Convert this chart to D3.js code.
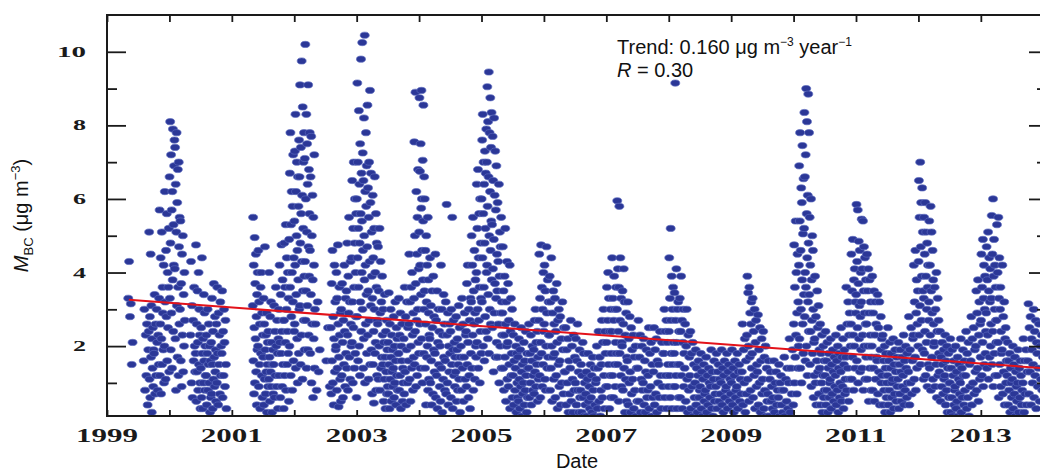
<!DOCTYPE html>
<html>
<head>
<meta charset="utf-8">
<script src="https://cdn.jsdelivr.net/npm/d3@7"></script>
<style>
  body { margin: 0; background: #fff; }
  svg { display: block; }
</style>
</head>
<body>
<svg id="chart" width="1040" height="473"></svg>
<script>
// daily M_BC readings, one string per month (Jan..Dec)
const m1999 = ["", "", "", "",
  "3.3 4.3 2.8 3.15 1.5 2.1", "", "",
  "1.6 3.0 0.8 2.3 1.2 2.6 0.4 1.9",
  "2.4 5.1 1.1 2.8 0.6 4.5 1.7 3.1 0.2 2.2 1.4 2.5 0.9 1.9",
  "1.8 3.4 0.7 2.6 1.2 3.0 2.1 0.8 2.3 1.5",
  "3.3 5.7 1.2 2.6 4.4 0.7 2.2 5.1 1.5 3.6 2.9 1.9 4.2 1.0",
  "2.0 6.2 3.2 1.1 4.6 2.8 5.6 1.6 4.0 2.5 3.6 5.2 1.3"];
const m2000 = [
  "6.6 3.3 8.1 4.8 1.9 7.2 2.9 5.7 1.4 6.2 3.8 7.9 2.4 5.3 4.2 6.9 7.6",
  "4.1 7.4 2.2 6.4 0.8 5.1 7.8 3.1 5.9 1.7 6.8 3.6 1.2 7.0 4.7 2.6 5.5",
  "3.0 5.4 1.6 3.7 0.9 4.5 2.3 5.0 1.3 3.4 2.0 4.0 2.7",
  "",
  "2.3 4.3 1.0 3.1 0.6 2.7 1.6 3.6 2.0 1.3",
  "1.8 4.75 0.5 2.6 1.3 3.5 2.1 0.8 4.0 1.5 3.0 2.3 1.0 0.3",
  "1.4 2.5 0.6 4.4 1.8 0.3 2.2 1.0 3.4 1.6 2.9 0.8 2.0 1.2",
  "1.2 2.3 0.4 1.8 3.0 0.8 1.5 2.6 1.0 2.0 0.2 1.6 0.6",
  "2.1 0.7 3.3 1.5 0.3 2.4 1.1 3.7 1.7 0.9 2.8 1.3 1.9 0.5",
  "2.6 1.0 3.6 1.8 0.4 2.9 1.5 2.3 0.7 3.2 1.2 2.0",
  "1.8 3.5 0.6 2.4 1.2 3.0 2.1 0.9 2.7 1.5 0.3",
  ""];
const m2001 = ["", "", "", "",
  "3.1 5.5 1.6 4.2 0.7 2.5 4.95 1.0 3.7 2.2 4.5 1.3 2.8 0.4 3.4 1.9 4.0",
  "2.0 4.6 0.9 3.2 1.5 2.6 0.3 3.6 1.8 4.0 1.2 2.9 0.6 2.3",
  "1.7 3.3 0.4 2.6 1.1 4.7 1.9 0.7 2.3 1.3 2.9 0.2 1.5 2.1 0.9",
  "2.4 1.1 4.0 1.7 0.5 2.8 1.3 3.2 0.9 2.1 0.2 1.5 1.9 0.7",
  "1.5 3.1 0.6 2.4 1.2 3.6 2.0 0.9 2.7 1.8 0.3 2.2",
  "3.0 1.2 4.2 2.1 0.6 3.4 1.8 4.75 2.4 0.9 3.8 1.5 2.7 0.3",
  "2.7 4.8 1.2 3.6 2.1 5.3 0.8 3.0 4.4 1.5 2.4 4.0 1.8 3.3 0.5",
  "4.9 2.0 6.7 3.6 7.8 1.2 5.3 2.8 6.2 4.0 0.8 5.8 3.2 7.2 1.6 4.4 2.4"];
const m2002 = [
  "5.4 2.6 7.3 4.2 8.3 1.4 6.2 3.4 5.0 7.0 2.2 4.6 1.0 6.6 3.8 5.8 1.8 7.6 3.0",
  "6.6 3.1 9.1 4.8 1.5 7.4 5.6 2.3 9.75 4.3 6.1 1.1 8.5 3.5 5.2 7.0 2.7 7.8 3.9 1.9",
  "7.1 4.3 10.2 2.7 6.0 3.5 8.3 1.4 5.1 7.5 3.1 6.4 1.9 9.1 4.7 2.3 6.8 3.9 5.6 7.8",
  "4.6 1.8 6.6 3.4 7.7 1.0 5.0 2.6 6.1 3.8 0.6 5.5 2.2 4.2 7.2 1.4 3.0",
  "2.6 0.8 3.2 1.3 1.9",
  "",
  "1.6 2.5 0.9",
  "2.5 0.7 3.7 1.6 4.6 1.0 2.8 0.4 2.2 4.2 1.3 3.2 1.9",
  "2.0 4.0 0.8 3.3 1.4 4.75 2.6 0.35 1.7 3.6 2.3 1.1 2.9 0.5",
  "3.0 1.2 3.7 2.1 0.6 2.7 1.5 4.2 2.4 0.9 3.3 1.8",
  "3.5 1.4 4.8 2.3 0.8 3.9 2.9 5.5 1.7 3.2 1.1 4.3 2.6 2.0",
  "4.4 2.1 6.5 3.2 1.0 5.2 2.5 7.0 3.6 1.4 4.8 6.0 1.8 4.0 2.8 5.6 0.6"];
const m2003 = [
  "6.0 2.8 9.15 4.4 7.0 1.6 5.2 3.6 8.4 2.0 6.4 4.8 1.2 7.5 3.2 5.6 9.8 2.4 6.7 4.0",
  "5.4 10.25 3.0 7.25 4.6 1.4 6.5 2.2 8.2 5.0 3.8 10.45 1.0 6.2 4.2 2.6 7.8 5.8 3.4 6.9 1.8",
  "4.7 8.55 2.3 6.3 3.5 1.1 5.5 7.0 2.7 4.3 8.95 1.5 5.9 3.1 6.7 1.9 5.1 3.9 0.7",
  "3.3 6.1 1.5 4.4 2.4 0.45 5.2 3.0 6.6 1.8 4.0 2.1 5.6 0.8 3.6 4.8 1.2 2.7",
  "2.6 4.7 1.1 3.5 2.0 5.2 0.8 2.9 4.3 1.4 3.2 1.7 3.9 2.3",
  "1.5 3.0 0.5 2.1 1.1 3.4 1.7 0.3 2.4 1.3 2.7 0.7 1.9 0.9",
  "2.1 0.7 3.45 1.5 0.3 2.6 1.1 3.0 1.7 0.5 2.3 1.3 1.9 0.9",
  "1.4 2.8 0.6 2.0 1.0 3.2 1.6 0.4 2.5 1.2 2.2 0.8 1.8",
  "1.8 3.3 0.8 2.3 1.2 2.9 0.3 2.0 1.6 2.6 0.5 1.4 1.0",
  "2.2 0.7 3.6 1.3 2.8 0.4 1.9 3.2 1.0 2.5 1.6",
  "2.6 4.5 1.1 3.2 0.5 2.0 3.6 1.4 4.0 2.3 0.8 2.9 1.7",
  "3.3 7.55 1.5 5.0 2.4 8.9 3.7 0.9 6.2 2.7 4.5 1.2 5.5 3.0 6.8 2.1 4.1 1.8"];
const m2004 = [
  "5.1 8.75 2.6 6.75 4.2 1.4 7.5 3.4 5.75 8.95 2.2 6.0 4.6 1.0 7.05 3.8 5.4 8.55 1.8 3.0 6.6",
  "3.5 6.0 1.4 4.6 2.6 0.4 5.0 3.2 1.7 4.2 2.0 5.5 0.8 3.8 2.9 1.1 2.3",
  "2.2 4.4 1.0 3.1 1.6 0.4 3.5 2.5 0.7 3.9 1.9 2.8 1.3",
  "1.8 4.5 0.6 2.7 1.2 3.5 0.3 2.1 3.0 1.5 2.4 0.9",
  "2.0 0.5 4.2 1.4 3.0 0.2 2.3 1.1 3.4 1.7 2.6 0.8",
  "1.6 3.2 0.7 5.85 2.3 1.0 2.9 0.4 2.0 1.3 2.6 1.8",
  "2.4 0.6 3.0 1.5 5.5 0.3 1.9 2.7 1.2 2.1 0.9 1.7",
  "1.3 2.8 0.5 1.9 2.2 0.8 1.5 3.1 1.1 2.5 0.2 1.7",
  "2.0 0.8 3.3 1.4 2.6 0.5 1.7 2.9 1.1 2.3",
  "2.4 0.9 3.7 1.5 4.2 2.1 0.6 3.0 1.2 2.7 0.3 3.3 1.8",
  "3.2 5.0 1.4 4.2 2.3 5.5 0.8 3.5 2.6 4.6 1.1 2.9 3.8 2.0 1.7",
  "4.0 6.4 2.1 5.2 3.0 6.8 1.4 4.4 2.7 5.6 3.6 1.0 6.0 2.4 4.8 3.3 1.8"];
const m2005 = [
  "6.0 3.2 7.6 4.4 8.3 2.0 5.6 7.0 3.6 6.4 1.6 4.8 7.3 2.8 5.2 6.7 2.4 7.9 4.0",
  "7.0 4.2 9.05 5.8 2.2 8.1 3.4 6.6 9.45 1.8 5.0 7.8 3.0 6.2 8.75 4.6 2.6 7.4 5.4 8.35 3.8",
  "5.3 2.5 7.7 4.1 6.5 1.3 4.9 8.2 2.9 6.1 3.7 7.3 1.7 5.7 3.3 6.9 2.1 4.5",
  "3.5 5.9 1.7 4.3 2.6 6.4 1.0 3.9 5.1 2.0 4.7 2.9 5.5 1.4 3.2 2.3",
  "2.9 4.7 1.4 3.5 0.8 2.3 3.9 1.7 5.2 2.6 0.5 3.2 2.0 4.3 1.1",
  "2.1 3.7 0.9 2.7 1.5 4.2 0.3 2.4 3.3 1.2 1.8 3.0 0.6",
  "1.2 2.3 0.4 1.6 2.6 0.8 1.4 2.0 0.2 1.8 1.0 0.6",
  "1.7 0.5 2.2 1.1 0.3 1.9 0.9 2.5 1.3 0.1 1.5 0.7",
  "1.0 2.1 0.4 1.6 0.8 2.4 1.2 0.2 1.8 0.6 1.4",
  "1.4 2.6 0.6 1.8 1.0 2.3 0.4 1.6 2.0 0.8 1.2",
  "1.9 0.7 2.7 1.3 3.0 0.9 2.1 1.5 2.4 0.5 1.7 1.1",
  "2.7 4.5 1.2 3.3 0.6 2.1 4.75 1.8 3.6 0.9 3.0 1.5 4.0 2.4"];
const m2006 = [
  "2.6 4.2 1.1 3.5 0.8 2.0 4.7 2.9 1.4 3.8 1.7 3.2 2.3",
  "2.3 3.9 0.8 3.2 1.4 4.4 2.0 0.5 2.9 1.7 3.5 1.1 2.6",
  "1.8 3.3 0.6 2.4 1.2 3.7 2.1 0.3 2.7 1.5 3.0 0.9",
  "1.6 2.8 0.4 2.2 1.0 3.2 1.9 0.7 2.5 1.3",
  "1.3 2.5 0.4 1.9 1.0 2.2 0.2 1.6 0.7",
  "1.4 2.7 0.5 2.0 1.1 0.2 2.3 0.8 1.7",
  "1.0 2.2 0.4 1.6 2.6 0.8 1.3 0.2 1.9 0.6",
  "0.8 1.5 0.2 1.2 2.1 0.6 1.8 0.1 1.0 0.4",
  "0.7 1.3 0.1 1.1 1.8 0.5 0.9 0.3 1.5",
  "0.6 1.2 0.2 1.7 0.8 0.1 1.4 0.4 1.0",
  "1.1 2.0 0.3 1.4 2.4 0.5 1.7 0.1 0.8",
  "1.5 2.7 0.6 2.1 3.0 1.2 0.3 2.4 1.8 0.9"];
const m2007 = [
  "2.1 3.6 0.9 2.7 4.0 1.5 3.3 0.3 2.4 1.2 3.0 0.6 1.8",
  "2.4 4.4 1.2 3.3 0.6 2.7 3.9 1.5 3.0 0.9 2.1 3.6 1.8",
  "3.0 5.95 1.5 4.1 2.4 0.5 3.6 5.8 1.8 2.7 4.4 1.2 3.3 0.9 2.1",
  "2.0 3.5 0.8 2.6 4.1 1.4 3.2 0.2 2.3 1.1 2.9 0.5 1.7",
  "1.6 3.2 0.4 2.2 1.0 2.8 1.3 0.2 2.5 0.7 1.9",
  "1.1 2.3 0.3 1.7 0.8 2.0 0.1 1.4 0.5",
  "1.4 2.7 0.5 1.7 2.3 0.2 1.1 2.0 0.8",
  "1.0 2.2 0.4 1.6 0.2 1.3 1.9 0.6 0.8",
  "1.2 2.5 0.3 1.8 0.9 2.1 0.1 1.5 0.6",
  "1.3 2.5 0.4 1.9 0.7 2.2 0.2 1.6 1.0",
  "1.5 0.6 2.4 1.2 0.3 2.1 0.9 1.8",
  "1.8 3.0 0.6 2.4 1.2 2.7 0.3 2.1 1.5 0.9"];
const m2008 = [
  "2.4 4.4 1.2 3.3 0.6 5.2 2.7 1.8 3.9 0.3 3.0 1.5 3.6 2.1 0.9",
  "1.8 3.45 0.9 9.15 2.7 1.2 4.1 2.1 0.3 3.0 1.5 3.2 0.6 2.4",
  "1.5 3.3 0.6 2.4 3.9 1.2 2.7 0.3 2.1 3.0 0.9 1.8",
  "1.4 2.6 0.5 2.0 3.0 1.1 0.2 2.3 0.8 1.7",
  "1.2 2.4 0.3 1.8 0.9 2.1 0.1 1.5 0.6",
  "1.0 1.9 0.4 1.4 0.2 1.2 1.6 0.6 0.8",
  "0.9 1.8 0.3 1.3 0.1 1.1 1.5 0.5 0.7",
  "0.8 1.7 0.2 1.2 0.4 1.4 1.0 0.6",
  "0.9 1.9 0.3 1.3 0.1 1.1 1.6 0.5 0.7",
  "0.9 1.8 0.3 1.3 1.5 0.5 1.1 0.7",
  "1.0 1.9 0.4 1.4 0.2 1.2 1.6 0.6 0.8",
  "0.9 1.8 0.3 1.3 1.5 0.5 1.1 0.7"];
const m2009 = [
  "1.0 1.9 0.4 1.4 0.2 1.2 1.6 0.6 0.8",
  "0.9 1.8 0.3 1.3 1.5 0.5 1.1 0.7",
  "1.3 2.6 0.4 1.9 1.0 2.2 0.2 1.6 0.7",
  "2.3 3.9 1.1 3.45 2.0 0.5 3.6 1.7 2.9 0.8 2.6 3.2 1.4",
  "1.8 3.3 0.6 2.4 1.2 3.0 0.3 2.1 2.7 0.9 1.5",
  "1.3 2.85 0.4 1.9 1.0 2.5 0.2 1.6 2.2 0.7",
  "1.1 2.4 0.3 1.7 0.8 2.0 0.1 1.4 0.5",
  "0.7 1.6 0.1 1.1 1.3 0.5 0.9 0.3",
  "0.6 1.6 0.2 1.0 1.3 0.4 0.8",
  "0.6 1.5 0.1 1.0 1.2 0.4 0.8 0.2",
  "0.8 1.7 0.1 1.1 0.5 1.4 0.3",
  "1.0 2.2 0.2 1.4 0.7 1.9 0.4"];
const m2010 = [
  "2.6 4.75 1.0 3.6 1.7 5.4 2.3 4.0 0.7 2.9 4.5 1.4 3.2 2.0",
  "4.2 6.9 2.2 5.4 7.8 1.4 4.6 3.0 6.3 1.0 5.9 3.8 7.45 2.6 5.05 1.8 6.55 3.4",
  "5.2 8.35 2.8 6.6 4.0 1.6 7.2 3.6 9.0 2.0 5.6 8.1 4.4 1.2 6.1 3.2 8.85 4.8 2.4 7.8",
  "3.4 5.5 1.5 4.2 2.4 6.0 0.9 3.8 2.7 5.0 1.8 4.6 3.0 0.6 2.1 1.2",
  "2.2 3.9 1.0 2.8 0.4 1.6 3.5 2.5 1.3 3.1 0.7 1.9",
  "1.4 2.6 0.4 1.8 1.0 2.3 0.2 1.2 2.0 0.6 1.6 0.8",
  "1.2 2.4 0.4 1.6 0.8 2.1 0.2 1.4 1.8 0.6 1.0",
  "1.1 2.2 0.3 1.5 0.7 1.9 1.3 0.5 1.7 0.9",
  "1.2 2.3 0.4 1.6 0.8 2.0 0.2 1.4 1.8 0.6 1.0",
  "1.3 2.5 0.5 1.7 0.9 2.2 0.3 1.5 1.9 0.7 1.1",
  "1.7 3.6 0.8 2.6 1.4 3.2 0.5 2.3 2.9 1.1 2.0",
  "2.6 4.5 1.1 3.5 1.7 4.9 2.3 0.8 3.8 2.0 4.1 1.4 3.2 2.9"];
const m2011 = [
  "3.4 5.85 1.6 4.3 2.5 5.7 1.0 3.7 4.85 2.2 3.1 4.6 1.3 2.8 4.0 1.9",
  "3.2 5.45 1.4 4.1 2.3 5.4 0.8 3.5 4.7 2.0 2.9 4.4 1.1 2.6 3.8 1.7",
  "2.6 4.5 1.1 3.5 2.0 4.1 0.5 2.9 3.8 1.4 2.3 3.2 0.8 1.7",
  "2.0 3.9 0.8 2.9 1.4 3.5 0.5 2.3 3.2 1.1 2.6 1.7",
  "1.6 3.4 0.7 2.5 1.3 3.2 0.4 1.9 2.8 1.0 2.2",
  "1.2 2.3 0.4 1.6 0.8 2.0 0.2 1.4 1.8 0.6 1.0",
  "1.2 2.5 0.4 1.6 0.8 2.1 0.2 1.4 1.8 0.6 1.0",
  "1.1 2.2 0.3 1.5 0.7 1.9 1.3 0.5 1.7 0.9",
  "1.1 2.1 0.3 1.5 0.7 1.9 1.3 0.5 1.7 0.9",
  "1.2 2.3 0.4 1.6 0.8 2.0 1.4 0.6 1.8 1.0",
  "1.3 2.8 0.4 1.9 1.0 2.5 0.7 1.6 2.2",
  "2.3 4.2 1.1 3.2 1.7 4.6 0.8 2.9 3.8 1.4 2.6 3.5 2.0"];
const m2012 = [
  "4.3 6.5 2.3 5.5 3.1 7.0 1.5 4.7 5.9 2.7 3.9 6.3 1.9 5.1 3.5 1.1",
  "3.3 5.5 1.8 4.5 2.4 5.9 1.2 3.9 5.1 2.1 3.0 4.8 0.9 3.6 4.2 1.5 2.7",
  "3.2 5.4 1.4 4.2 2.3 5.8 0.8 3.5 5.1 1.7 2.9 4.6 1.1 3.8 2.6 2.0",
  "2.1 3.6 0.9 3.0 1.5 4.0 0.6 2.4 3.3 1.2 2.7 1.8",
  "1.3 2.4 0.5 1.7 0.9 2.1 1.5 0.7 1.9 1.1",
  "1.2 2.3 0.4 1.6 0.8 2.0 0.2 1.4 1.8 0.6 1.0",
  "1.0 2.2 0.2 1.4 0.6 1.9 0.1 1.2 1.6 0.4 0.8",
  "0.9 2.0 0.3 1.3 0.5 1.7 0.1 1.1 1.5 0.7",
  "1.0 2.2 0.2 1.4 0.6 1.9 1.2 0.4 1.6 0.8",
  "1.2 2.4 0.3 1.8 0.6 2.1 0.1 1.5 0.9",
  "1.6 2.8 0.4 2.2 1.0 2.5 0.7 1.9 1.3",
  "2.0 3.5 0.8 2.9 1.4 3.8 0.5 2.3 3.2 1.1 2.6 1.7"];
const m2013 = [
  "2.7 4.5 1.2 3.6 2.1 4.9 0.9 3.3 4.2 1.5 3.0 3.9 1.8 2.4",
  "2.9 4.7 1.4 3.8 2.3 5.1 1.1 3.5 4.4 1.7 3.2 4.1 2.0 2.6",
  "3.3 5.55 1.5 4.5 2.4 6.0 0.9 3.9 4.9 1.8 3.0 4.2 1.2 3.6 2.7 2.1",
  "2.7 5.3 1.2 4.0 2.1 5.5 0.6 3.3 4.4 1.5 3.0 3.6 0.9 2.4 1.8",
  "1.9 4.2 0.7 2.8 1.3 3.2 0.4 2.2 2.5 1.0 1.6",
  "1.2 2.1 0.4 1.6 0.8 1.8 0.2 1.4 1.0 0.6",
  "1.1 2.0 0.3 1.5 0.7 1.7 0.1 1.3 0.9 0.5",
  "1.0 1.9 0.2 1.4 0.6 1.6 1.2 0.4 0.8",
  "1.0 2.2 0.2 1.6 0.7 1.9 0.4 1.3",
  "1.6 3.15 0.7 2.5 1.3 2.8 0.4 2.2 1.9 1.0",
  "1.5 3.0 0.6 2.4 1.2 2.7 0.3 2.1 1.8 0.9",
  "1.4 2.6 0.5 2.0 1.1 2.3 0.8 1.7"];

const years = [1999, 2000, 2001, 2002, 2003, 2004, 2005, 2006, 2007, 2008, 2009, 2010, 2011, 2012, 2013];
const monthly = [m1999, m2000, m2001, m2002, m2003, m2004, m2005, m2006, m2007, m2008, m2009, m2010, m2011, m2012, m2013];

// axis ticks and labels
const yearTicks = d3.range(1999, 2015);
const yearLabels = [1999, 2001, 2003, 2005, 2007, 2009, 2011, 2013];
const yMajor = [2, 4, 6, 8, 10];
const yMinor = [1, 3, 5, 7, 9];

// linear trend line end points (decimal year, value)
const trendDates = [1999.35, 2014.06];
const trendValues = [3.26, 1.39];

// flatten into points; readings spread evenly through their month
const points = [];
years.forEach((yr, yi) => {
  monthly[yi].forEach((s, m) => {
    const vals = s.trim() ? s.trim().split(/\s+/).map(Number) : [];
    vals.forEach((v, i) => {
      points.push({ t: yr + (m + (i + 0.5) / vals.length) / 12, v: v });
    });
  });
});

const svg = d3.select("#chart");
const plotLeft = 107, plotRight = 1047, plotTop = 15, plotBottom = 416;

const x = d3.scaleLinear().domain([1999, 2014.06]).range([plotLeft, plotRight]);
const y = d3.scaleLinear().domain([0.1, 11]).range([plotBottom, plotTop]);

svg.append("rect").attr("width", 1040).attr("height", 473).attr("fill", "#fff");

svg.append("clipPath").attr("id", "plot")
  .append("rect").attr("x", plotLeft).attr("y", plotTop)
  .attr("width", plotRight - plotLeft).attr("height", plotBottom - plotTop);

const plot = svg.append("g").attr("clip-path", "url(#plot)");

plot.selectAll("ellipse")
  .data(points)
  .enter().append("ellipse")
  .attr("cx", d => x(d.t))
  .attr("cy", d => y(d.v))
  .attr("rx", 4.5)
  .attr("ry", 3.1)
  .attr("fill", "#2b3797")
  .attr("stroke", "#5a68bd")
  .attr("stroke-width", 0.7);

plot.append("line")
  .attr("x1", x(trendDates[0])).attr("y1", y(trendValues[0]))
  .attr("x2", x(trendDates[1])).attr("y2", y(trendValues[1]))
  .attr("stroke", "#e3121a")
  .attr("stroke-width", 2);

// axes: all ticks point inward
function styleAxis(g) {
  g.select(".domain").remove();
  g.selectAll(".tick line").attr("stroke", "#1a1a1a").attr("stroke-width", 1.8);
  g.selectAll(".tick text").remove();
}

svg.append("g").attr("transform", `translate(0,${plotBottom})`)
  .call(d3.axisBottom(x).tickValues(yearTicks).tickSize(-6)).call(styleAxis);
svg.append("g").attr("transform", `translate(0,${plotTop})`)
  .call(d3.axisTop(x).tickValues(yearTicks).tickSize(-7)).call(styleAxis);
svg.append("g").attr("transform", `translate(${plotLeft},0)`)
  .call(d3.axisLeft(y).tickValues(yMajor).tickSize(-19)).call(styleAxis);
svg.append("g").attr("transform", `translate(${plotLeft},0)`)
  .call(d3.axisLeft(y).tickValues(yMinor).tickSize(-10)).call(styleAxis);
svg.append("g").attr("transform", `translate(${plotRight},0)`)
  .call(d3.axisRight(y).tickValues(yMajor).tickSize(-18)).call(styleAxis);
svg.append("g").attr("transform", `translate(${plotRight},0)`)
  .call(d3.axisRight(y).tickValues(yMinor).tickSize(-10)).call(styleAxis);

svg.append("rect")
  .attr("x", plotLeft).attr("y", plotTop)
  .attr("width", plotRight - plotLeft).attr("height", plotBottom - plotTop)
  .attr("fill", "none").attr("stroke", "#1a1a1a").attr("stroke-width", 2);

// tick labels (wide bold serif, as in the figure)
svg.append("g").selectAll("text")
  .data(yearLabels)
  .enter().append("text")
  .attr("x", d => x(d))
  .attr("y", 442)
  .attr("text-anchor", "middle")
  .attr("textLength", 62)
  .attr("lengthAdjust", "spacingAndGlyphs")
  .style("font", "bold 18px 'Liberation Serif', 'Times New Roman', serif")
  .attr("fill", "#1a1a1a")
  .text(d => d);

svg.append("g").selectAll("text")
  .data(yMajor)
  .enter().append("text")
  .attr("x", 86)
  .attr("y", d => y(d) + 5)
  .attr("text-anchor", "end")
  .attr("textLength", d => d >= 10 ? 29 : 13)
  .attr("lengthAdjust", "spacingAndGlyphs")
  .style("font", "bold 15px 'Liberation Serif', 'Times New Roman', serif")
  .attr("fill", "#1a1a1a")
  .text(d => d);

// axis titles
const sans = "'Liberation Sans', Arial, sans-serif";
svg.append("text")
  .attr("x", (plotLeft + plotRight) / 2)
  .attr("y", 468)
  .attr("text-anchor", "middle")
  .style("font", `20px ${sans}`)
  .attr("fill", "#111")
  .text("Date");

const yt = svg.append("text")
  .attr("transform", `translate(28,${(plotTop + plotBottom) / 2}) rotate(-90)`)
  .attr("text-anchor", "middle")
  .style("font", `20px ${sans}`)
  .attr("fill", "#111");
yt.append("tspan").style("font-style", "italic").text("M");
yt.append("tspan").attr("dy", 5).style("font-size", "13px").text("BC");
yt.append("tspan").attr("dy", -5).text(" (μg m");
yt.append("tspan").attr("dy", -8).style("font-size", "13px").text("−3");
yt.append("tspan").attr("dy", 8).text(")");

// trend annotation
const ann = svg.append("text")
  .attr("x", 617).attr("y", 54)
  .style("font", `20px ${sans}`)
  .attr("fill", "#111");
ann.append("tspan").text("Trend: 0.160 μg m");
ann.append("tspan").attr("dy", -8).style("font-size", "12px").text("−3");
ann.append("tspan").attr("dy", 8).text(" year");
ann.append("tspan").attr("dy", -8).style("font-size", "12px").text("−1");

const rt = svg.append("text")
  .attr("x", 617).attr("y", 77)
  .style("font", `20px ${sans}`)
  .attr("fill", "#111");
rt.append("tspan").style("font-style", "italic").text("R");
rt.append("tspan").text(" = 0.30");
</script>
</body>
</html>
